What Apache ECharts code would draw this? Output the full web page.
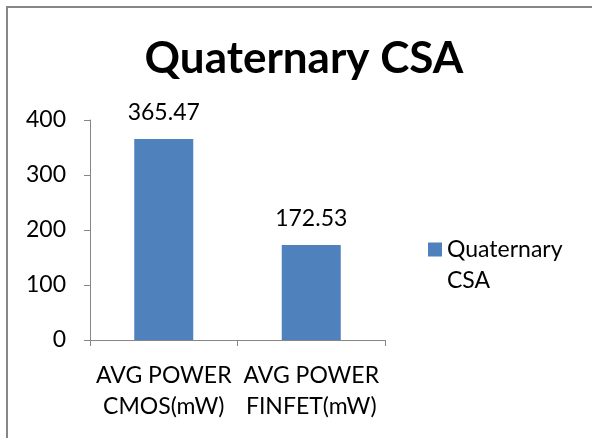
<!DOCTYPE html>
<html>
<head>
<meta charset="utf-8">
<script src="https://cdn.jsdelivr.net/npm/echarts@6/dist/echarts.min.js"></script>
<style>
  html, body { margin: 0; padding: 0; background: #fff; }
  #chart { width: 592px; height: 438px; }
</style>
</head>
<body>
<div id="chart"></div>
<script>
const categories = ['AVG POWER\nCMOS(mW)', 'AVG POWER\nFINFET(mW)']
const values = [365.47, 172.53]
const seriesName = 'Quaternary CSA'
const yTicks = { min: 0, max: 400, interval: 100 }

const font = 'Lato'
const chart = echarts.init(document.getElementById('chart'))
chart.setOption({
  animation: false,
  title: {
    text: 'Quaternary CSA',
    left: 299,
    top: 32,
    textAlign: 'center',
    textStyle: { fontFamily: font, fontSize: 44, fontWeight: 'bold', color: '#000' }
  },
  graphic: [{
    type: 'rect',
    shape: { x: 7, y: 7, width: 620, height: 470 },
    style: { fill: 'none', stroke: '#878787', lineWidth: 2 }
  }],
  legend: {
    orient: 'vertical',
    left: 423,
    top: 198,
    itemWidth: 14,
    itemHeight: 14,
    icon: 'rect',
    data: [seriesName],
    // leading blank line keeps the swatch level with the first text line
    formatter: () => '\u00a0\nQuaternary\nCSA',
    textStyle: { fontFamily: font, fontSize: 23, color: '#000', lineHeight: 31 }
  },
  grid: { left: 90, right: 207, top: 120, bottom: 98, containLabel: false },
  xAxis: {
    type: 'category',
    data: categories,
    axisLine: { lineStyle: { color: '#868686', width: 1 } },
    axisTick: { show: true, length: 6, lineStyle: { color: '#868686' } },
    axisLabel: { interval: 0, fontFamily: font, fontSize: 23, color: '#000', lineHeight: 31, margin: 20 }
  },
  yAxis: {
    type: 'value',
    min: yTicks.min,
    max: yTicks.max,
    interval: yTicks.interval,
    splitLine: { show: false },
    axisLine: { show: true, lineStyle: { color: '#868686', width: 1 } },
    axisTick: { show: true, length: 6, lineStyle: { color: '#868686' } },
    axisLabel: { fontFamily: font, fontSize: 23, color: '#000', margin: 24 }
  },
  series: [{
    name: seriesName,
    type: 'bar',
    data: values,
    barWidth: '40%',
    itemStyle: { color: '#4F81BD' },
    label: {
      show: true,
      position: 'top',
      distance: 15,
      fontFamily: font,
      fontSize: 23,
      color: '#000'
    }
  }]
})
</script>
</body>
</html>
